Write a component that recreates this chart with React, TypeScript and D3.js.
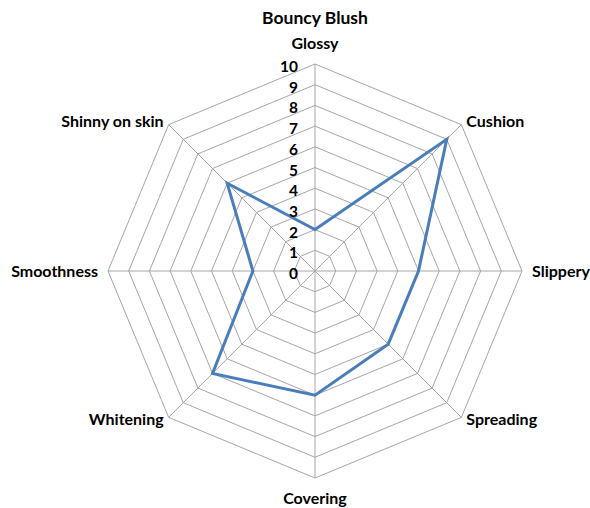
import { useEffect, useRef } from 'react';
import * as d3 from 'd3';

const title = 'Bouncy Blush';
const axes = ['Glossy', 'Cushion', 'Slippery', 'Spreading', 'Covering', 'Whitening', 'Smoothness', 'Shinny on skin'];
const values = [2, 9, 5, 5, 6, 7, 3, 6];
const ticks = [0, 1, 2, 3, 4, 5, 6, 7, 8, 9, 10];

const W = 590;
const H = 508;
const cx = 315;
const cy = 271;
const R = 207;
const FONT = 'Lato, "Open Sans", sans-serif';

export default function App() {
  const svgRef = useRef<SVGSVGElement>(null);

  useEffect(() => {
    if (!svgRef.current) return;
    const svg = d3.select(svgRef.current);
    svg.selectAll('*').remove();

    const r = d3.scaleLinear().domain([0, 10]).range([0, R]);
    const angle = d3.scalePoint<string>().domain(axes).range([0, 2 * Math.PI * (axes.length - 1) / axes.length]);
    const pt = (a: string, v: number): [number, number] => {
      const t = angle(a) as number;
      return [cx + r(v) * Math.sin(t), cy - r(v) * Math.cos(t)];
    };

    const g = svg.append('g');

    // grid rings
    ticks.filter(t => t > 0).forEach(t => {
      g.append('path')
        .attr('d', d3.line()(axes.map(a => pt(a, t))) + 'Z')
        .attr('fill', 'none')
        .attr('stroke', '#a6a6a6')
        .attr('stroke-width', 1);
    });

    // spokes
    axes.forEach(a => {
      const [x, y] = pt(a, 10);
      g.append('line')
        .attr('x1', cx).attr('y1', cy)
        .attr('x2', x).attr('y2', y)
        .attr('stroke', '#a6a6a6')
        .attr('stroke-width', 1);
    });

    // series
    g.append('path')
      .attr('d', d3.line()(axes.map((a, i) => pt(a, values[i]))) + 'Z')
      .attr('fill', 'none')
      .attr('stroke', '#4a7ebb')
      .attr('stroke-width', 3)
      .attr('stroke-linejoin', 'miter');

    // tick labels
    g.selectAll('text.tick')
      .data(ticks)
      .enter()
      .append('text')
      .attr('class', 'tick')
      .attr('x', cx - 17)
      .attr('y', d => cy - r(d) + 8)
      .attr('text-anchor', 'end')
      .style('font-family', FONT)
      .style('font-weight', 'bold')
      .style('font-size', '15.5px')
      .style('fill', '#000')
      .text(d => d);

    // axis labels
    axes.forEach(a => {
      const t = angle(a) as number;
      const [x, y] = pt(a, 10);
      const s = Math.sin(t);
      const c = Math.cos(t);
      let anchor = 'middle';
      let dx = 0;
      let dy = 0;
      if (s > 0.1) { anchor = 'start'; dx = Math.abs(s) > 0.9 ? 10 : 5; }
      if (s < -0.1) { anchor = 'end'; dx = Math.abs(s) > 0.9 ? -10 : -5; }
      if (c > 0.9) dy = -15;
      else if (c < -0.9) dy = 26;
      else if (Math.abs(c) < 0.1) dy = 6;
      else dy = c > 0 ? 2 : 8;
      g.append('text')
        .attr('x', x + dx)
        .attr('y', y + dy)
        .attr('text-anchor', anchor)
        .style('font-family', FONT)
        .style('font-weight', 'bold')
        .style('font-size', '16px')
        .style('fill', '#000')
        .text(a);
    });

    // title
    svg.append('text')
      .attr('x', cx)
      .attr('y', 24)
      .attr('text-anchor', 'middle')
      .style('font-family', FONT)
      .style('font-weight', 'bold')
      .style('font-size', '17.5px')
      .style('fill', '#000')
      .text(title);
  }, []);

  return (
    <div style={{ position: 'absolute', left: 0, top: 0, width: W, height: H, background: '#fff' }}>
      <svg ref={svgRef} width={W} height={H}></svg>
    </div>
  );
}
